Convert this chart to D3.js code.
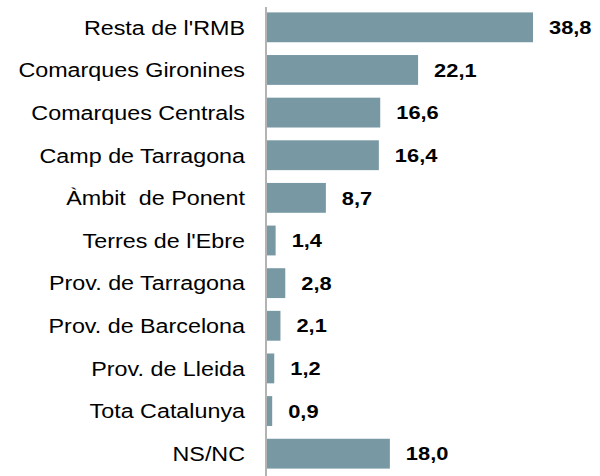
<!DOCTYPE html>
<html><head><meta charset="utf-8">
<script src="https://cdn.jsdelivr.net/npm/d3@7"></script>
<style>body{margin:0;background:#fff}svg{display:block}</style>
</head><body><svg id="c" width="600" height="476"></svg>
<script>
const categories = ["Resta de l'RMB","Comarques Gironines","Comarques Centrals","Camp de Tarragona","Àmbit  de Ponent","Terres de l'Ebre","Prov. de Tarragona","Prov. de Barcelona","Prov. de Lleida","Tota Catalunya","NS/NC"];
const values = [38.8,22.1,16.6,16.4,8.7,1.4,2.8,2.1,1.2,0.9,18.0];

const svg = d3.select("#c");
const x0 = 266;
const x = d3.scaleLinear().domain([0, 38.8]).range([x0, 533]);
const y = d3.scaleBand().domain(categories).range([6, 475]).paddingInner(0.3).paddingOuter(0.15);
const fmt = v => d3.format(".1f")(v).replace(".", ",");

svg.selectAll("rect.bar").data(values).join("rect")
  .attr("class","bar")
  .attr("x", x0 + 1)
  .attr("y", (d,i) => y(categories[i]))
  .attr("width", d => x(d) - x0 - 1)
  .attr("height", y.bandwidth())
  .attr("fill", "#7899a4");

svg.append("line").attr("x1", x0).attr("x2", x0).attr("y1", 7).attr("y2", 476)
  .attr("stroke", "#9a9a9a").attr("stroke-width", 1.5);

svg.selectAll("text.cat").data(categories).join("text")
  .attr("class","cat")
  .attr("transform", d => `translate(245,${y(d) + y.bandwidth()/2}) scale(1.11,1)`)
  .attr("dy", "0.35em")
  .attr("text-anchor", "end")
  .attr("font-family", "Liberation Sans, Arial, sans-serif")
  .attr("font-size", 21)
  .attr("fill", "#000")
  .style("white-space", "pre")
  .text(d => d);

svg.selectAll("text.val").data(values).join("text")
  .attr("class","val")
  .attr("transform", (d,i) => `translate(${x(d) + 16},${y(categories[i]) + y.bandwidth()/2}) scale(1.15,1)`)
  .attr("dy", "0.35em")
  .attr("font-family", "Liberation Sans, Arial, sans-serif")
  .attr("font-size", 19)
  .attr("font-weight", "bold")
  .attr("fill", "#000")
  .text(d => fmt(d));
</script></body></html>
